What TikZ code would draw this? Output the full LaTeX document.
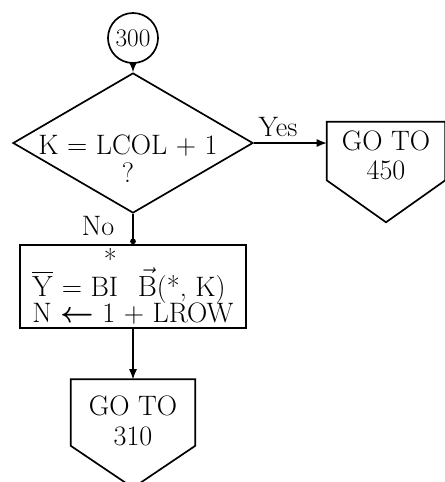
\documentclass[tikz,border=0pt]{standalone}
\usepackage{amsmath}
\usepackage{tikz}
\usetikzlibrary{arrows.meta}
\usetikzlibrary{shapes,arrows}

\begin{document}
\begin{tikzpicture}[x=0.025cm,y=-0.025cm,draw=black!100,font=\fontsize{20}{23}\selectfont]
 	\def \colx{133}
 	\tikzstyle{c-node}=[circle,draw=black!100,very thick,inner sep=0pt,minimum size=1.25cm,font=\fontsize{18}{20}\selectfont]
 	\tikzstyle{d-node}=[diamond,draw=black!100,very thick,inner sep=0pt,minimum width=6cm,minimum height=3.5cm]
 	\tikzstyle{p-node}=[rectangle,draw=black!100,very thick,inner sep=1pt,minimum width=5.65cm,minimum height=2.075cm,align=left]
 	\tikzstyle{g-node}=[rectangle,inner sep=0pt,align=center]
 	\tikzstyle{g-line}=[draw=black!100,very thick,line join=miter]
 	\tikzstyle{annot}=[align=center,inner sep=1pt]
 	\tikzstyle{flow}=[thick,-{Latex[length=2.5mm,width=2mm]}]
 	\useasboundingbox (0,0) rectangle (445,482);

 	% entry and test
 	\node[c-node] 	(c300)	at (\colx,38)		{300};
 	\node[d-node] 	(dec)	at (\colx,143)		{};
 	\node[annot] 	(dec-text)	at (128,159)	{K = LCOL + 1\\[-3pt]?};

 	% labels
 	\node[annot] 	(yes-label)	at (278,127)	{Yes};
 	\node[annot] 	(no-label)	at (98,226)	{No};

 	% process box
 	\node[p-node] 	(calc)	at (\colx,286.5)	{$\overline{\mathrm{Y}}$ = BI\llap{\raisebox{0.95em}{*}\kern1pt}\hspace{0.7em}$\vec{\mathrm{B}}$(*, K)\\[-4pt]
 		N $\boldsymbol{\leftarrow}$ 1 + LROW};

 	% go to boxes
 	\node[g-node,minimum width=2.95cm,minimum height=1.35cm] 	(go450)	at (386,151)	{\rule{0pt}{0.7cm}GO TO\\[-2pt]450};
 	\node[g-node,minimum width=3.1cm,minimum height=1.375cm] 	(go310)	at (\colx,412.5)	{\rule{0pt}{0.9cm}GO TO\\[-2pt]310};
 	\draw[g-line] (go450.south west) -- (go450.north west) -- (go450.north east) -- (go450.south east) -- ([yshift=-1.05cm]go450.south) -- cycle;
 	\draw[g-line] (go310.south west) -- (go310.north west) -- (go310.north east) -- (go310.south east) -- ([yshift=-1.05cm]go310.south) -- cycle;

 	\draw[flow] (c300) -- (dec);
 	\draw[flow] (dec.east) -- (dec.east -| go450.west);
 	\draw[thick,-{Circle[length=4pt]}] (dec.south) -- (dec.south |- calc.north);
 	\draw[flow] (calc) -- (go310);
\end{tikzpicture}
\end{document}
